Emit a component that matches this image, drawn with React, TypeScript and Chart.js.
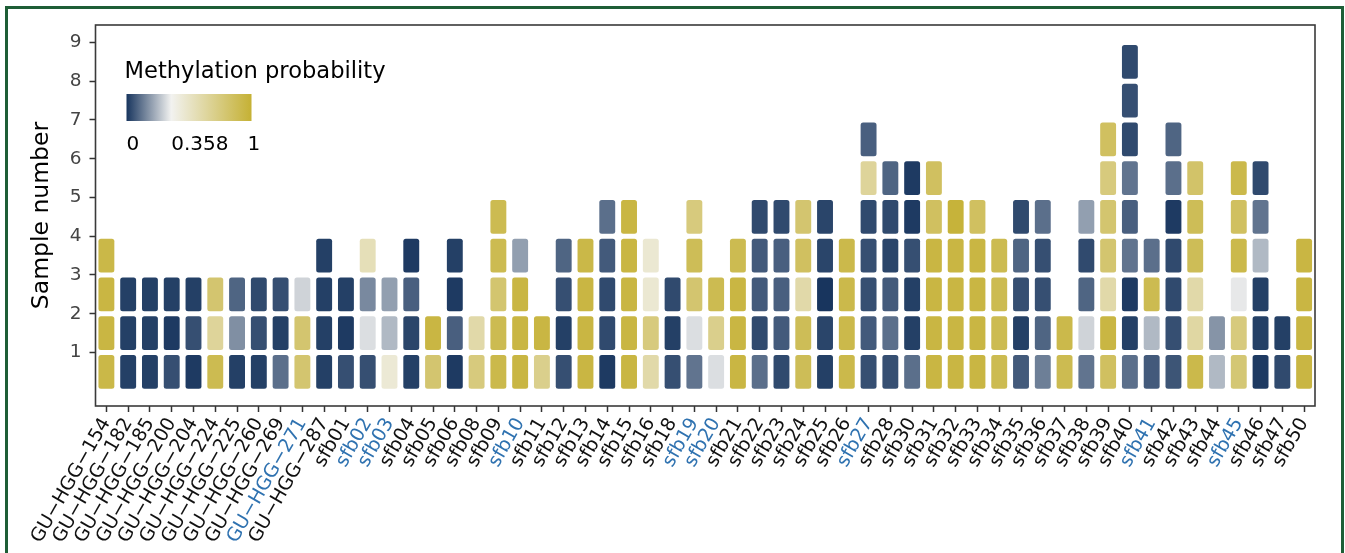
import { useEffect, useRef } from "react";
import { Chart, registerables } from "chart.js";

Chart.register(...registerables);

const categories = [
  "GU-HGG-154", "GU-HGG-182", "GU-HGG-185", "GU-HGG-200", "GU-HGG-204", "GU-HGG-224",
  "GU-HGG-225", "GU-HGG-260", "GU-HGG-269", "GU-HGG-271", "GU-HGG-287",
  "sfb01", "sfb02", "sfb03", "sfb04", "sfb05", "sfb06", "sfb08", "sfb09", "sfb10",
  "sfb11", "sfb12", "sfb13", "sfb14", "sfb15", "sfb16", "sfb18", "sfb19", "sfb20",
  "sfb21", "sfb22", "sfb23", "sfb24", "sfb25", "sfb26", "sfb27", "sfb28", "sfb30",
  "sfb31", "sfb32", "sfb33", "sfb34", "sfb35", "sfb36", "sfb37", "sfb38", "sfb39",
  "sfb40", "sfb41", "sfb42", "sfb43", "sfb44", "sfb45", "sfb46", "sfb47", "sfb50",
];

const highlighted = ["GU-HGG-271", "sfb02", "sfb03", "sfb10", "sfb19", "sfb20", "sfb27", "sfb41", "sfb45"];

// methylation probability of each sample, bottom to top, per category
const sampleValues: number[][] = [
  [0.93, 0.95, 0.95, 0.93],
  [0.02, 0.02, 0.02],
  [0.02, 0.02, 0.02],
  [0.05, 0.01, 0.02],
  [0.01, 0.05, 0.02],
  [0.9, 0.65, 0.8],
  [0.02, 0.17, 0.09],
  [0.02, 0.05, 0.04],
  [0.11, 0.02, 0.05],
  [0.8, 0.8, 0.3],
  [0.02, 0.02, 0.02, 0.02],
  [0.05, 0.01, 0.02],
  [0.05, 0.32, 0.16, 0.55],
  [0.45, 0.25, 0.2],
  [0.02, 0.03, 0.08, 0.01],
  [0.8, 0.95],
  [0.01, 0.08, 0.01, 0.02],
  [0.75, 0.6],
  [0.92, 0.9, 0.8, 0.9, 0.9],
  [0.95, 0.95, 0.95, 0.2],
  [0.7, 0.95],
  [0.05, 0.02, 0.05, 0.09],
  [0.95, 0.95, 0.95, 0.93],
  [0.01, 0.04, 0.04, 0.07, 0.11],
  [0.95, 0.95, 0.95, 0.95, 0.95],
  [0.6, 0.75, 0.46, 0.46],
  [0.05, 0.02, 0.04],
  [0.12, 0.32, 0.8, 0.88, 0.75],
  [0.32, 0.7, 0.9],
  [0.95, 0.95, 0.95, 0.9],
  [0.11, 0.04, 0.07, 0.07, 0.04],
  [0.04, 0.07, 0.08, 0.08, 0.04],
  [0.88, 0.88, 0.6, 0.85, 0.8],
  [0.02, 0.03, 0.0, 0.03, 0.03],
  [0.92, 0.92, 0.92, 0.92],
  [0.05, 0.07, 0.05, 0.05, 0.04, 0.65, 0.08],
  [0.05, 0.11, 0.07, 0.03, 0.04, 0.09],
  [0.11, 0.02, 0.02, 0.05, 0.01, 0.01],
  [0.95, 0.95, 0.95, 0.95, 0.85, 0.85],
  [0.95, 0.95, 0.95, 0.95, 0.98],
  [0.95, 0.95, 0.95, 0.95, 0.85],
  [0.9, 0.9, 0.9, 0.9],
  [0.07, 0.02, 0.05, 0.09, 0.04],
  [0.14, 0.09, 0.05, 0.05, 0.11],
  [0.9, 0.92],
  [0.12, 0.3, 0.09, 0.04, 0.2],
  [0.85, 0.95, 0.6, 0.8, 0.8, 0.75, 0.85],
  [0.11, 0.02, 0.01, 0.12, 0.08, 0.12, 0.04, 0.05, 0.04],
  [0.07, 0.25, 0.9, 0.11],
  [0.06, 0.05, 0.04, 0.04, 0.01, 0.11, 0.09],
  [0.92, 0.62, 0.6, 0.88, 0.88, 0.82],
  [0.25, 0.18],
  [0.78, 0.75, 0.34, 0.92, 0.85, 0.92],
  [0.01, 0.02, 0.02, 0.25, 0.12, 0.04],
  [0.04, 0.02],
  [0.95, 0.95, 0.95, 0.95],
];

const yTicks = [1, 2, 3, 4, 5, 6, 7, 8, 9];
const legendTitle = "Methylation probability";
const legendStops = [0, 0.358, 1];
const legendLabels = ["0", "0.358", "1"];
const yTitle = "Sample number";

const FONT = '"DejaVu Sans", sans-serif';
const LOW = [24, 53, 94];
const MID = [242, 242, 240];
const HIGH = [197, 177, 52];
const BLUE = "#2f72b0";

function rgb(c: number[]) {
  return `rgb(${Math.round(c[0])},${Math.round(c[1])},${Math.round(c[2])})`;
}
function lerp(a: number[], b: number[], t: number) {
  return a.map((v, i) => v + (b[i] - v) * t);
}
function probColor(v: number) {
  const m = legendStops[1];
  if (v <= m) return rgb(lerp(LOW, MID, v / m));
  return rgb(lerp(MID, HIGH, (v - m) / (1 - m)));
}

export default function App() {
  const ref = useRef<HTMLCanvasElement>(null);

  useEffect(() => {
    const canvas = ref.current;
    if (!canvas) return;
    const maxLevel = Math.max(...sampleValues.map((a) => a.length));
    const GAP = 0.065;
    const datasets: any[] = [];
    for (let k = 1; k <= maxLevel; k++) {
      datasets.push({
        label: `Sample ${k}`,
        data: sampleValues.map((vals) => (vals.length >= k ? [k - 1 + GAP, k - GAP] : null)),
        backgroundColor: sampleValues.map((vals) =>
          vals.length >= k ? probColor(vals[k - 1]) : "rgba(0,0,0,0)"
        ),
        borderWidth: 0,
        borderRadius: 2.5,
        borderSkipped: false,
        barPercentage: 0.73,
        categoryPercentage: 1,
        grouped: false,
      });
    }

    const framePlugin = {
      id: "panelFrame",
      afterDraw(chart: any) {
        const { ctx, chartArea: a } = chart;
        ctx.save();
        ctx.strokeStyle = "#3a3a3a";
        ctx.lineWidth = 1.6;
        ctx.strokeRect(a.left, a.top, a.right - a.left, a.bottom - a.top);

        // colour-bar legend inside the panel
        const x0 = a.left + 31;
        const y0 = a.top + 69;
        const w = 125;
        const h = 27;
        ctx.fillStyle = "#000";
        ctx.font = `22.6px ${FONT}`;
        ctx.textBaseline = "alphabetic";
        ctx.textAlign = "left";
        ctx.fillText(legendTitle, a.left + 29, a.top + 53);
        const g = ctx.createLinearGradient(x0, 0, x0 + w, 0);
        legendStops.forEach((s) => g.addColorStop(s, probColor(s)));
        ctx.fillStyle = g;
        ctx.fillRect(x0, y0, w, h);
        ctx.fillStyle = "#000";
        ctx.font = `20px ${FONT}`;
        legendStops.forEach((s, i) => {
          ctx.fillText(legendLabels[i], x0 + s * w + (i === 2 ? -4 : 0), a.top + 125);
        });
        ctx.restore();
      },
    };

    const chart = new Chart(canvas, {
      type: "bar",
      data: { labels: categories, datasets },
      plugins: [framePlugin],
      options: {
        animation: false,
        responsive: false,
        layout: { padding: { left: 0, right: 30, top: 25, bottom: 0 } },
        plugins: { legend: { display: false }, tooltip: { enabled: false } },
        scales: {
          x: {
            type: "category",
            offset: true,
            grid: {
              offset: false,
              drawOnChartArea: false,
              drawTicks: true,
              tickLength: 6,
              tickColor: "#333",
              tickWidth: 1.5,
            },
            border: { display: false },
            ticks: {
              autoSkip: false,
              minRotation: 60,
              maxRotation: 60,
              padding: 2,
              font: { family: FONT, size: 19 },
              color: (c: any) => (highlighted.includes(categories[c.index]) ? BLUE : "#111"),
              callback: (_v: any, i: number) => categories[i].replace(/-/g, "\u2212"),
            },
            afterFit: (s: any) => {
              s.height = 147;
            },
          },
          y: {
            min: -0.38,
            max: 9.45,
            afterBuildTicks: (s: any) => {
              s.ticks = yTicks.map((v) => ({ value: v }));
            },
            afterFit: (s: any) => {
              s.width = 95.5;
            },
            grid: {
              drawOnChartArea: false,
              drawTicks: true,
              tickLength: 6,
              tickColor: "#333",
              tickWidth: 1.5,
            },
            border: { display: false },
            ticks: {
              color: "#444",
              padding: 8,
              font: { family: FONT, size: 18.5 },
            },
            title: {
              display: true,
              text: yTitle,
              color: "#000",
              font: { family: FONT, size: 23.5 },
              padding: { top: 28, bottom: 0 },
            },
          },
        },
      },
    });
    return () => chart.destroy();
  }, []);

  return (
    <div
      style={{
        position: "fixed",
        left: 0,
        top: 0,
        width: 1345,
        height: 553,
        background: "#fff",
        overflow: "hidden",
      }}
    >
      <div
        style={{
          position: "absolute",
          left: 5,
          top: 6,
          width: 1339,
          height: 700,
          border: "3px solid #1e5e36",
          boxSizing: "border-box",
        }}
      />
      <canvas
        ref={ref}
        width={1345}
        height={553}
        style={{ position: "absolute", left: 0, top: 0 }}
      />
    </div>
  );
}
